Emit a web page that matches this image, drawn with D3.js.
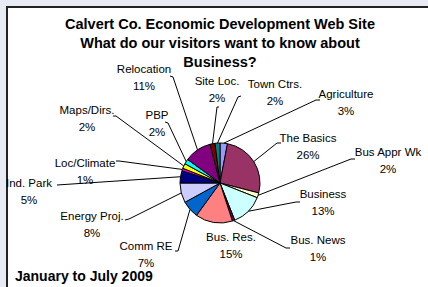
<!DOCTYPE html>
<html lang="en">
	<head>
		<meta charset="utf-8">
		<title>Calvert Co. web site visitors</title>
		<script type="text/javascript" src="https://cdnjs.cloudflare.com/ajax/libs/d3/7.8.5/d3.min.js"></script>
		<style type="text/css">
			body { margin: 0; background: #e8eaf4; }
			svg { display: block; font-family: "Liberation Sans", Arial, sans-serif; }
		</style>
	</head>
	<body>
		<script type="text/javascript">

			var w = 428;
			var h = 287;

			// data, in the order the slices run clockwise from 12 o'clock
			var categories = ['Agriculture', 'The Basics', 'Bus Appr Wk', 'Business', 'Bus. News', 'Bus. Res.',
				'Comm RE', 'Energy Proj.', 'Ind. Park', 'Loc/Climate', 'Maps/Dirs.', 'PBP', 'Relocation',
				'Site Loc.', 'Town Ctrs.']
			var values = [3, 26, 2, 13, 1, 15, 7, 8, 5, 1, 2, 2, 11, 2, 2]
			var titleLines = ['Calvert Co. Economic Development Web Site', 'What do our visitors want to know about', 'Business?']
			var footnote = 'January to July 2009'

			// old excel palette
			var colors = ['#9999ff', '#993366', '#ffffcc', '#ccffff', '#660066', '#ff8080', '#0066cc', '#ccccff',
				'#000080', '#ff00ff', '#ffff00', '#00ffff', '#800080', '#800000', '#008080']

			// label placement: text centre, first baseline, and the leader's start + its little hook (null = no leader)
			var labelAt = {
				'Agriculture': {x: 346, y: 98, lx: [320, 100, -4, 0]},
				'The Basics': {x: 308, y: 142, lx: [281, 143, -4, 0]},
				'Bus Appr Wk': {x: 388, y: 156, lx: [355, 159, -4, 0]},
				'Business': {x: 323, y: 198, lx: [300, 202, -4, 0]},
				'Bus. News': {x: 318, y: 244, lx: [290, 248, -4, 0]},
				'Bus. Res.': {x: 231, y: 241, lx: null},
				'Comm RE': {x: 146, y: 250, lx: [175, 251, 3, 0]},
				'Energy Proj.': {x: 92, y: 220, lx: [125, 220, 4, -1]},
				'Ind. Park': {x: 29, y: 187, lx: [57, 185, 0, 0]},
				'Loc/Climate': {x: 85, y: 167, lx: [116, 161, 3, 0]},
				'Maps/Dirs.': {x: 87, y: 114, lx: [113, 116, 3, 0]},
				'PBP': {x: 157, y: 119, lx: [165, 122, 3, 1]},
				'Relocation': {x: 144, y: 73, lx: [170, 76, 3, 1]},
				'Site Loc.': {x: 217, y: 85, lx: [219, 107, -2, 0]},
				'Town Ctrs.': {x: 275, y: 88, lx: [241, 96, -3, 1]}
			}

			var cx = 220, cy = 183, r = 40

			var svg = d3.select('body')
							.append('svg')
							.attr('width', w)
							.attr('height', h)

			// chart frame
			svg.append('rect')
				.attr('x', 7).attr('y', 7)
				.attr('width', w).attr('height', h)
				.attr('fill', 'white')
				.attr('stroke', '#222')
				.attr('stroke-width', 2)

			var pie = d3.pie().sort(null).value(d => d)
			var arcs = pie(values)
			var arc = d3.arc().innerRadius(0).outerRadius(r)

			var g = svg.append('g').attr('transform', `translate(${cx},${cy})`)
			g.selectAll('path')
				.data(arcs)
				.enter()
				.append('path')
				.attr('d', arc)
				.attr('fill', (d, i) => colors[i])
				.attr('stroke', 'black')
				.attr('stroke-width', 1)

			var total = d3.sum(values)

			// leader lines
			svg.append('g')
					.attr('fill', 'none')
					.attr('stroke', 'black')
					.attr('stroke-width', 1)
				.selectAll('path')
					.data(arcs.filter((d, i) => labelAt[categories[i]].lx))
					.enter()
					.append('path')
					.attr('d', d => {
						var p = labelAt[categories[d.index]].lx
						var a = (d.startAngle + d.endAngle) / 2
						var ex = cx + r * Math.sin(a), ey = cy - r * Math.cos(a)
						return `M${p[0]},${p[1]}L${p[0] + p[2]},${p[1] + p[3]}L${ex},${ey}`
					})

			// labels
			var lab = svg.append('g')
					.attr('text-anchor', 'middle')
					.attr('font-size', 11.5)
					.attr('fill', 'black')
				.selectAll('text')
					.data(arcs)
					.enter()
					.append('text')
					.attr('x', d => labelAt[categories[d.index]].x)
					.attr('y', d => labelAt[categories[d.index]].y)
			lab.append('tspan').text(d => categories[d.index])
			lab.append('tspan')
				.attr('x', d => labelAt[categories[d.index]].x)
				.attr('dy', 17)
				.text(d => Math.round(d.data / total * 100) + '%')

			// title
			svg.append('g')
					.attr('text-anchor', 'middle')
					.attr('font-size', 14.5)
					.attr('font-weight', 'bold')
				.selectAll('text')
					.data(titleLines)
					.enter()
					.append('text')
					.attr('x', 220)
					.attr('y', (d, i) => 29 + i * 19)
					.text(d => d)

			svg.append('text')
				.attr('x', 15)
				.attr('y', 281)
				.attr('font-size', 14)
				.attr('font-weight', 'bold')
				.text(footnote)
		</script>
	</body>
</html>
